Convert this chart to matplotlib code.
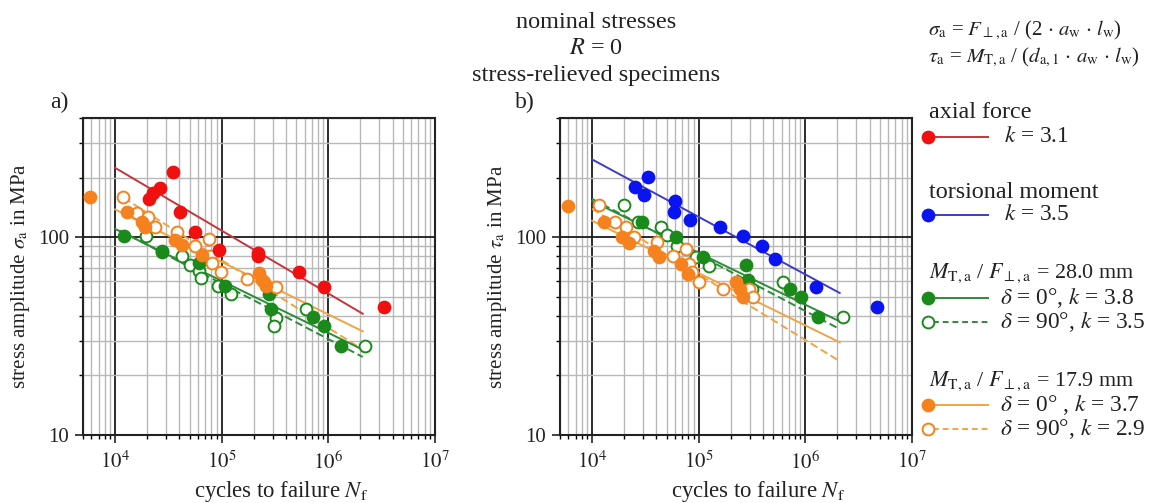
import matplotlib.pyplot as plt
from matplotlib.lines import Line2D
from matplotlib.ticker import FixedLocator, LogLocator, NullFormatter
import numpy as np

plt.rcParams['font.family'] = ['Liberation Serif', 'DejaVu Serif']
plt.rcParams['mathtext.fontset'] = 'stix'

# ---- a) axial / combined, nominal normal stress amplitude
a_red_N = [3.52e4, 2.09e4, 2.28e4, 2.64e4, 4.07e4, 5.56e4, 9.38e4, 2.2e5, 2.2e5, 5.32e5, 9.04e5, 3.3e6]
a_red_S = [214, 156, 167, 177, 134, 106, 86, 83, 80, 66.7, 56, 44.5]
a_orF_N = [5770, 12800, 17700, 19000, 36500, 42200, 65200, 2.23e5, 2.4e5, 2.5e5, 2.58e5]
a_orF_S = [160, 134, 119, 112, 97, 91, 81, 66, 61, 59, 56.7]
a_orO_N = [11900, 15900, 20500, 23700, 37900, 56400, 75400, 78200, 81100, 99300, 171000, 321000]
a_orO_S = [160, 133, 126, 112, 106, 90, 98, 80, 74.4, 66.7, 61.2, 56]
a_grF_N = [12200, 27400, 60700, 108000, 277000, 288000, 711000, 917000, 1.32e6]
a_grF_S = [101.5, 85.2, 74.4, 56.6, 51.4, 43.2, 39.5, 35.5, 28.3]
a_grO_N = [19300, 27400, 42300, 50700, 60700, 64300, 92300, 121000, 321000, 310000, 617000, 2.19e6]
a_grO_S = [101.5, 84.6, 80.4, 72.1, 67.5, 62.4, 56.6, 51.4, 39.1, 35.7, 43.1, 28.3]

# fitted lines (end points)
a_red_fitN, a_red_fitS = [1e4, 2.1e6], [224, 41]
a_orF_fitN, a_orF_fitS = [1e4, 2.1e6], [138, 33.4]
a_orO_fitN, a_orO_fitS = [1.2e4, 2.1e6], [158, 27]
a_grF_fitN, a_grF_fitS = [1e4, 2.1e6], [110, 27]
a_grO_fitN, a_grO_fitS = [1.1e4, 2.1e6], [108, 24.8]

# ---- b) torsion / combined, nominal shear stress amplitude
b_blue_N = [33400, 25200, 30700, 59700, 58700, 82600, 160000, 262000, 393000, 514000, 1.27e6, 4.67e6]
b_blue_S = [201, 179, 164, 152, 134, 122, 112, 101, 90, 77.6, 55.8, 44.6]
b_orF_N = [5940, 12900, 19200, 22100, 38100, 42500, 67900, 78500, 224000, 244000, 259000]
b_orF_S = [144, 119, 100, 93.6, 85.2, 79.8, 72.9, 64.9, 59.1, 54.7, 49.6]
b_orO_N = [11700, 16300, 20600, 24700, 40400, 57500, 75700, 81500, 85600, 99600, 168000, 299000, 326000]
b_orO_S = [145, 119, 112, 100, 95, 80.1, 87.3, 73.2, 67, 59.6, 54.7, 54.7, 49.6]
b_grF_N = [29200, 60900, 109000, 278000, 288000, 711000, 916000, 1.31e6]
b_grF_S = [119, 100, 79.2, 72.4, 61, 54.7, 49.6, 39.6]
b_grO_N = [19900, 27100, 44000, 50800, 63200, 94000, 124000, 317000, 617000, 2.23e6]
b_grO_S = [145, 119, 112, 102, 90.7, 79.2, 71.8, 54.7, 59.6, 39.6]

b_blue_fitN, b_blue_fitS = [1e4, 2.1e6], [247, 52.2]
b_orF_fitN, b_orF_fitS = [1e4, 2.1e6], [121, 29.4]
b_orO_fitN, b_orO_fitS = [1e4, 2e6], [139, 24]
b_grF_fitN, b_grF_fitS = [1e4, 2.1e6], [152, 37.5]
b_grO_fitN, b_grO_fitS = [1e4, 2.1e6], [156, 34.3]

RED, RED_L = '#f01010', '#c8343c'
BLUE, BLUE_L = '#0a14f0', '#3c3cc8'
GREEN, GREEN_L = '#1a8a1a', '#2e8b3a'
ORANGE, ORANGE_L = '#f5821e', '#f0a444'
TXT = '#222222'

fig = plt.figure(figsize=(11.59, 5.03), dpi=100)
axA = fig.add_axes([83/1159, 68/503, 352/1159, 317/503])
axB = fig.add_axes([560/1159, 68/503, 352/1159, 317/503])


def pts(ax, N, S, col, filled):
    ax.plot(N, S, 'o', ms=8.5, mfc=col if filled else 'white', mec=col, mew=1.4,
            ls='none', zorder=4)


def fit(ax, N, S, col, ls='-'):
    ax.plot(N, S, color=col, lw=1.4, ls=ls, dashes=(4, 2) if ls == '--' else (None, None),
            zorder=3)


for ax in (axA, axB):
    ax.set_xscale('log')
    ax.set_yscale('log')
    ax.set_xlim(5000, 1e7)
    ax.set_ylim(10, 400)
    ax.xaxis.set_major_locator(FixedLocator([1e4, 1e5, 1e6, 1e7]))
    ax.set_xticklabels([r'$10^4$', r'$10^5$', r'$10^6$', r'$10^7$'])
    ax.xaxis.set_minor_locator(LogLocator(base=10, subs=np.arange(2, 10), numticks=20))
    ax.xaxis.set_minor_formatter(NullFormatter())
    ax.yaxis.set_major_locator(FixedLocator([10, 100]))
    ax.set_yticklabels(['10', '100'])
    ax.yaxis.set_minor_locator(LogLocator(base=10, subs=np.arange(2, 10), numticks=20))
    ax.yaxis.set_minor_formatter(NullFormatter())
    ax.grid(which='minor', color='#b8b8b8', lw=1.0)
    ax.grid(which='major', color='#1a1a1a', lw=1.3)
    ax.set_axisbelow(True)
    ax.tick_params(which='major', labelsize=15, length=6, width=1.2, direction='out',
                   colors=TXT, pad=4)
    ax.tick_params(axis='x', which='major', pad=6)
    ax.tick_params(which='minor', length=3, width=1.0, direction='out')
    for sp in ax.spines.values():
        sp.set_linewidth(1.5)
        sp.set_color('#222222')
    ax.set_xlabel(r'cycles to failure $N_\mathrm{f}$', fontsize=16.4, color=TXT)
    ax.xaxis.set_label_coords(0.5 + 22/352, -0.14)

axA.set_ylabel(r'stress amplitude $\sigma_\mathrm{a}$ in MPa', fontsize=15, labelpad=4, color=TXT)
axB.set_ylabel(r'stress amplitude $\tau_\mathrm{a}$ in MPa', fontsize=15, labelpad=4, color=TXT)

# panel a
fit(axA, a_red_fitN, a_red_fitS, RED_L)
fit(axA, a_orF_fitN, a_orF_fitS, ORANGE_L)
fit(axA, a_orO_fitN, a_orO_fitS, ORANGE_L, '--')
fit(axA, a_grF_fitN, a_grF_fitS, GREEN_L)
fit(axA, a_grO_fitN, a_grO_fitS, GREEN_L, '--')
pts(axA, a_grO_N, a_grO_S, GREEN, False)
pts(axA, a_grF_N, a_grF_S, GREEN, True)
pts(axA, a_orO_N, a_orO_S, ORANGE, False)
pts(axA, a_orF_N, a_orF_S, ORANGE, True)
pts(axA, a_red_N, a_red_S, RED, True)

# panel b
fit(axB, b_blue_fitN, b_blue_fitS, BLUE_L)
fit(axB, b_orF_fitN, b_orF_fitS, ORANGE_L)
fit(axB, b_orO_fitN, b_orO_fitS, ORANGE_L, '--')
fit(axB, b_grF_fitN, b_grF_fitS, GREEN_L)
fit(axB, b_grO_fitN, b_grO_fitS, GREEN_L, '--')
pts(axB, b_grO_N, b_grO_S, GREEN, False)
pts(axB, b_grF_N, b_grF_S, GREEN, True)
pts(axB, b_orO_N, b_orO_S, ORANGE, False)
pts(axB, b_orF_N, b_orF_S, ORANGE, True)
pts(axB, b_blue_N, b_blue_S, BLUE, True)

fig.text(50/1159, 1 - 102/503, 'a)', fontsize=17, va='center', color=TXT)
fig.text(515/1159, 1 - 102/503, 'b)', fontsize=17, va='center', color=TXT)

# header
for txt, y in [('nominal stresses', 22), (r'$R$ = 0', 49), ('stress-relieved specimens', 76)]:
    fig.text(596/1159, 1 - y/503, txt, fontsize=17.5, ha='center', va='center', color=TXT)

fig.text(928/1159, 1 - 30/503,
         r'$\sigma_\mathrm{a}$ = $F_{\perp\mathrm{,a}}$ / (2 $\cdot$ $a_\mathrm{w}$ $\cdot$ $l_\mathrm{w}$)',
         fontsize=15, va='center', color=TXT)
fig.text(928/1159, 1 - 57/503,
         r'$\tau_\mathrm{a}$ = $M_\mathrm{T,a}$ / ($d_\mathrm{a,1}$ $\cdot$ $a_\mathrm{w}$ $\cdot$ $l_\mathrm{w}$)',
         fontsize=15, va='center', color=TXT)


# legend drawn by hand
def leg_entry(y, col, lcol, filled, ls, label, tx=1000):
    fy = 1 - y/503
    fig.add_artist(Line2D([933/1159, 988/1159], [fy, fy], color=lcol, lw=1.4,
                          ls=ls, dashes=(3, 2) if ls == '--' else (None, None),
                          transform=fig.transFigure))
    fig.add_artist(Line2D([928/1159], [fy], marker='o', ms=8.5, mec=col, mew=1.4,
                          mfc=col if filled else 'white', transform=fig.transFigure))
    fig.text(tx/1159, fy, label, fontsize=16.8, va='center', color=TXT)


fig.text(929/1159, 1 - 112/503, 'axial force', fontsize=17.4, va='center', color=TXT)
leg_entry(137, RED, RED_L, True, '-', r'$k$ = 3.1', 1004)
fig.text(929/1159, 1 - 192/503, 'torsional moment', fontsize=17.4, va='center', color=TXT)
leg_entry(215, BLUE, BLUE_L, True, '-', r'$k$ = 3.5', 1004)
fig.text(929/1159, 1 - 273/503, r'$M_\mathrm{T,a}$ / $F_{\perp\mathrm{,a}}$ = 28.0 mm', fontsize=15.8,
         va='center', color=TXT)
leg_entry(298, GREEN, GREEN_L, True, '-', r'$\delta$ = 0°, $k$ = 3.8')
leg_entry(322, GREEN, GREEN_L, False, '--', r'$\delta$ = 90°, $k$ = 3.5')
fig.text(929/1159, 1 - 381/503, r'$M_\mathrm{T,a}$ / $F_{\perp\mathrm{,a}}$ = 17.9 mm', fontsize=15.8,
         va='center', color=TXT)
leg_entry(405, ORANGE, ORANGE_L, True, '-', r'$\delta$ = 0° , $k$ = 3.7')
leg_entry(429, ORANGE, ORANGE_L, False, '--', r'$\delta$ = 90°, $k$ = 2.9')

fig.savefig('out.png', dpi=100)
